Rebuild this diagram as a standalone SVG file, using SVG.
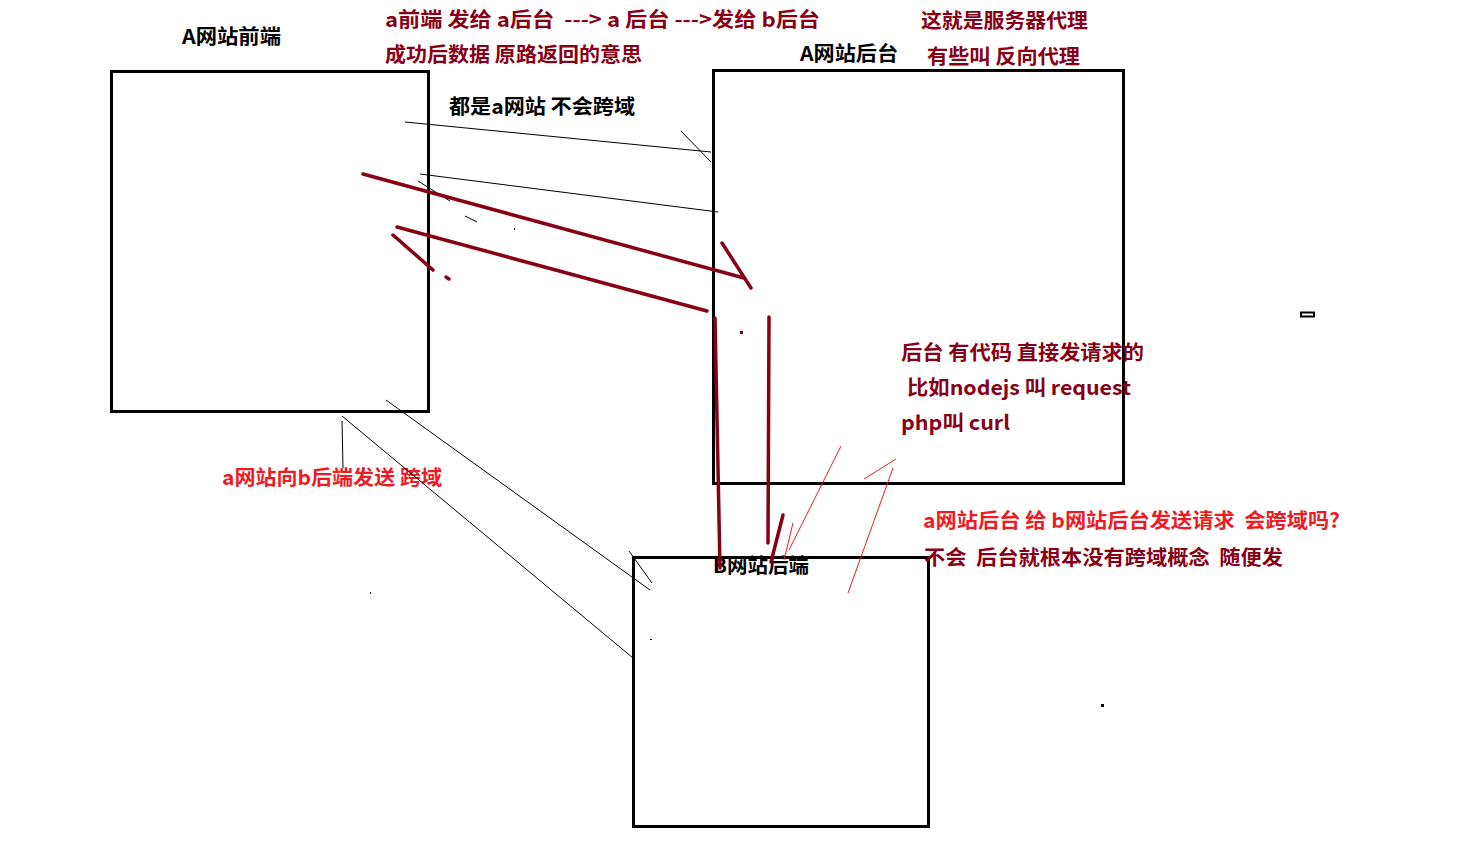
<svg xmlns="http://www.w3.org/2000/svg" width="1476" height="864" viewBox="0 0 1476 864">
<style>
.box{fill:none;stroke:#000;stroke-width:3}
.t{font-family:"Noto Sans CJK SC","Liberation Sans",sans-serif;font-weight:bold;font-size:20px;white-space:pre}
.k{fill:#000}
.d{fill:#880015}
.r{fill:#ed1c24}
.thin{stroke:#000;stroke-width:1;fill:none}
.thick{stroke:#880015;stroke-width:3.5;fill:none;stroke-linecap:round}
.rt{stroke:#ed1c24;stroke-width:1;fill:none}
</style>
<rect width="1476" height="864" fill="#fff"/>
<g id="node-a-front">
<rect class="box" x="111.5" y="71.5" width="317" height="340"/>
<text class="t k" x="182" y="44" textLength="99" lengthAdjust="spacingAndGlyphs">A网站前端</text>
</g>
<g id="node-a-back">
<rect class="box" x="713.5" y="70.5" width="410" height="413"/>
<text class="t k" x="800" y="61" textLength="98" lengthAdjust="spacingAndGlyphs">A网站后台</text>
</g>
<g id="node-b-back">
<rect class="box" x="633.5" y="557.5" width="295" height="269"/>
</g>
<g id="notes">
<text class="t d" x="385" y="27" textLength="435" lengthAdjust="spacingAndGlyphs">a前端 发给 a后台  ---&gt; a 后台 ---&gt;发给 b后台</text>
<text class="t d" x="385" y="62" textLength="257" lengthAdjust="spacingAndGlyphs">成功后数据 原路返回的意思</text>
<text class="t d" x="921" y="28" textLength="167" lengthAdjust="spacingAndGlyphs">这就是服务器代理</text>
<text class="t d" x="927" y="64" textLength="153" lengthAdjust="spacingAndGlyphs">有些叫 反向代理</text>
<text class="t k" x="449" y="114" textLength="186" lengthAdjust="spacingAndGlyphs">都是a网站 不会跨域</text>
<text class="t d" x="901" y="360" textLength="243" lengthAdjust="spacingAndGlyphs">后台 有代码 直接发请求的</text>
<text class="t d" x="907" y="395" textLength="224" lengthAdjust="spacingAndGlyphs">比如nodejs 叫 request</text>
<text class="t d" x="901" y="430" textLength="109" lengthAdjust="spacingAndGlyphs">php叫 curl</text>
<text class="t r" x="222" y="485" textLength="220" lengthAdjust="spacingAndGlyphs">a网站向b后端发送 跨域</text>
<text class="t r" x="923" y="528" textLength="417" lengthAdjust="spacingAndGlyphs">a网站后台 给 b网站后台发送请求  会跨域吗?</text>
<text class="t d" x="924" y="565" textLength="359" lengthAdjust="spacingAndGlyphs">不会  后台就根本没有跨域概念  随便发</text>
<text class="t k" x="713" y="573" textLength="96" lengthAdjust="spacingAndGlyphs">B网站后端</text>
</g>
<g id="connectors">
<line class="thin" x1="405" y1="122" x2="711" y2="152"/>
<line class="thin" x1="681" y1="131" x2="711" y2="162"/>
<line class="thin" x1="420" y1="174" x2="718" y2="212"/>
<line class="thin" x1="418" y1="181" x2="450" y2="201"/>
<line class="thin" x1="465" y1="216" x2="477" y2="222"/>
<rect x="514" y="228" width="1" height="2" fill="#000"/>
<line class="thin" x1="342" y1="421" x2="343" y2="468"/>
<line class="thin" x1="342" y1="416" x2="633" y2="658"/>
<line class="thin" x1="386" y1="400" x2="650" y2="590"/>
<line class="thin" x1="629" y1="551" x2="652" y2="583"/>
<rect x="370" y="592" width="1" height="2" fill="#000"/>
<rect x="650" y="639" width="2" height="1" fill="#000"/>
<rect x="1101" y="704" width="3" height="3" fill="#000"/>
<rect x="1301" y="312.5" width="13" height="4" fill="none" stroke="#000" stroke-width="2"/>
<line class="thick" x1="363" y1="174" x2="744" y2="278"/>
<line class="thick" x1="722" y1="243" x2="751" y2="288"/>
<line class="thick" x1="397" y1="227" x2="707" y2="311"/>
<line class="thick" x1="393" y1="235" x2="433" y2="270"/>
<line class="thick" x1="446" y1="277" x2="449" y2="279"/>
<rect x="740" y="331" width="3" height="3" fill="#880015"/>
<line class="thick" x1="715" y1="318" x2="720" y2="568"/>
<line class="thick" x1="769" y1="317" x2="768" y2="543"/>
<line class="thick" x1="783" y1="515" x2="771" y2="562"/>
<line class="rt" x1="841" y1="446" x2="789" y2="550"/>
<line class="rt" x1="896" y1="459" x2="864" y2="479"/>
<line class="rt" x1="893" y1="468" x2="848" y2="593"/>
<line class="rt" x1="793" y1="523" x2="784" y2="560"/>
</g>
</svg>
